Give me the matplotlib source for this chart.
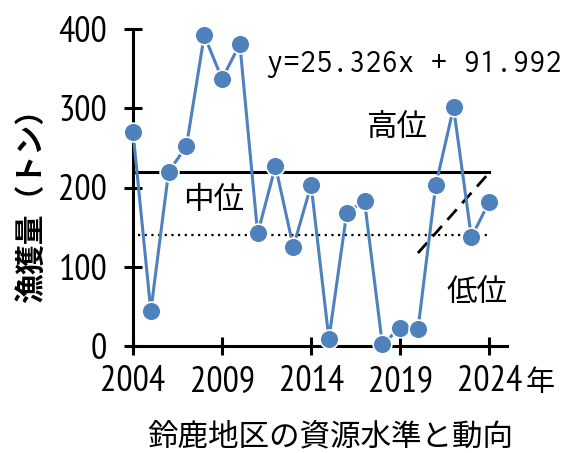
import matplotlib
matplotlib.use("Agg")
import matplotlib.pyplot as plt
import numpy as np

years = list(range(2004, 2025))
catch = [270, 44, 220, 252, 392, 337, 381, 142, 227, 125, 203, 9, 168, 183, 2, 23, 21, 203, 301, 137, 182]
high_line = 220
low_line = 140
trend_slope = 25.326
trend_intercept = 91.992
trend_years = [2020, 2021, 2022, 2023, 2024]
xticks = [2004, 2009, 2014, 2019, 2024]
yticks = [0, 100, 200, 300, 400]

blue = "#4F81BD"
num_font = ["PT Sans Narrow", "Noto Sans CJK JP", "DejaVu Sans"]
cjk_font = ["Noto Sans CJK JP", "DejaVu Sans"]

fig = plt.figure(figsize=(5.68, 4.53), dpi=100)
ax = fig.add_axes([133/568, 1-346/453, (507-133)/568, (346-29)/453])

ax.plot(years, catch, color=blue, lw=2.2, marker="o", ms=13.5,
        markerfacecolor=blue, markeredgecolor="white", markeredgewidth=1.2,
        clip_on=False, zorder=5)

ax.plot([2004, 2024], [high_line, high_line], color="black", lw=2.2, zorder=3)
ax.plot([2004.3, 2024], [low_line, low_line], color="black", lw=1.6,
        linestyle=(0, (1, 2)), zorder=3)
tx = np.arange(1, len(trend_years) + 1)
ax.plot(trend_years, trend_slope * tx + trend_intercept, color="black", lw=2.0,
        linestyle=(0, (5, 3)), zorder=3)

ax.set_xlim(2004, 2025)
ax.set_ylim(0, 400)
ax.set_xticks(xticks)
ax.set_yticks(yticks)
ax.set_xticklabels([str(t) for t in xticks], fontfamily=num_font, fontsize=26)
ax.set_yticklabels([str(t) for t in yticks], fontfamily=num_font, fontsize=26)
for s in ["top", "right"]:
    ax.spines[s].set_visible(False)
for s in ["left", "bottom"]:
    ax.spines[s].set_linewidth(2.2)
ax.tick_params(direction="inout", length=13, width=2.2)
ax.tick_params(axis="x", pad=7)
ax.tick_params(axis="y", pad=12)

ax.text(2011.5, 356, "y=25.326x + 91.992", fontfamily=["Inconsolata", "DejaVu Sans Mono"],
        fontsize=23.5, va="center", ha="left")
ax.text(2018.8, 276, "高位", fontfamily=cjk_font, fontsize=22, ha="center", va="center")
ax.text(2008.5, 184, "中位", fontfamily=cjk_font, fontsize=22, ha="center", va="center")
ax.text(2023.3, 67, "低位", fontfamily=cjk_font, fontsize=22, ha="center", va="center")

fig.text(540/568, 1-383/453, "年", fontfamily=cjk_font, fontsize=21, ha="center", va="center")
fig.text(330/568, 1-437/453, "鈴鹿地区の資源水準と動向", fontfamily=cjk_font, fontsize=22,
         ha="center", va="center")
fig.text(31/568, 1-198/453, "漁獲量（トン）", fontfamily=cjk_font, fontsize=21.5,
         fontweight="bold", rotation=90, ha="center", va="center")

fig.savefig("out.png", dpi=100)
